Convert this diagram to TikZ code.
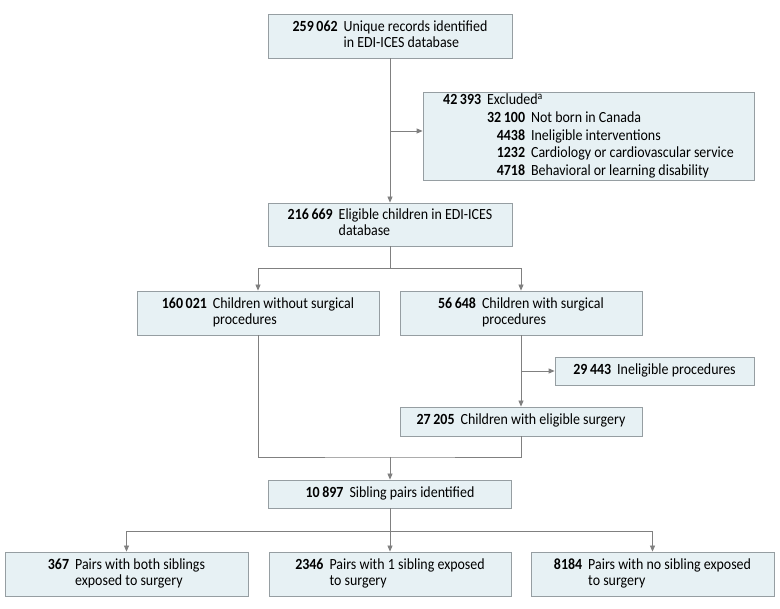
\documentclass[tikz,border=0pt]{standalone}
\usepackage{fontspec}
\setmainfont{Carlito}[FakeStretch=0.9]
\usetikzlibrary{arrows.meta}
\definecolor{boxfill}{RGB}{231,241,244}
\definecolor{boxline}{RGB}{150,158,162}
\definecolor{flowline}{RGB}{128,128,128}
\newcommand{\tally}[2]{\textbf{#1}\hspace{6pt}\begin{tabular}[t]{@{}l@{}}#2\end{tabular}}

\begin{document}
\begin{tikzpicture}[x=1pt,y=-1pt,
    stage/.style={draw=boxline, fill=boxfill, line width=0.8pt, inner sep=0pt,
      font=\fontsize{15.5}{16}\selectfont},
    flow/.style={draw=flowline, line width=0.8pt},
    arr/.style={flow, -{Triangle[length=6pt,width=5pt]}}]
  \path[use as bounding box, fill=white] (0,0) rectangle (780,609);

  % boxes
  \node[stage, minimum width=244, minimum height=44] (rec) at (390,36)
    {\tally{259\,062}{Unique records identified\\in EDI-ICES database}};
  \node[stage, minimum width=331, minimum height=87] (excl) at (588.5,136.5)
    {\renewcommand{\arraystretch}{1.1}%
     \begin{tabular}{@{}l@{\hspace{6pt}}r@{\hspace{6pt}}l@{}}
       \textbf{42\,393} & \multicolumn{2}{@{}l@{}}{Excluded\textsuperscript{a}}\\
       & \textbf{32\,100} & Not born in Canada\\
       & \textbf{4438} & Ineligible interventions\\
       & \textbf{1232} & Cardiology or cardiovascular service\\
       & \textbf{4718} & Behavioral or learning disability
     \end{tabular}};
  \node[stage, minimum width=244, minimum height=43] (elig) at (390,224.5)
    {\tally{216\,669}{Eligible children in EDI-ICES\\database}};
  \node[stage, minimum width=242, minimum height=44] (nosurg) at (258,313)
    {\tally{160\,021}{Children without surgical\\procedures}};
  \node[stage, minimum width=242, minimum height=44] (surg) at (521,313)
    {\tally{56\,648}{Children with surgical\\procedures}};
  \node[stage, minimum width=199, minimum height=28] (inelig) at (654.5,371)
    {\tally{29\,443}{Ineligible procedures}};
  \node[stage, minimum width=242, minimum height=29] (elsurg) at (521,421.5)
    {\tally{27\,205}{Children with eligible surgery}};
  \node[stage, minimum width=243, minimum height=28] (sib) at (390,494)
    {\tally{10\,897}{Sibling pairs identified}};
  \node[stage, minimum width=243, minimum height=44] (both) at (126.5,574)
    {\tally{367}{Pairs with both siblings\\exposed to surgery}};
  \node[stage, minimum width=242, minimum height=44] (one) at (390,574)
    {\tally{2346}{Pairs with 1 sibling exposed\\to surgery}};
  \node[stage, minimum width=243, minimum height=44] (none) at (652.5,574)
    {\tally{8184}{Pairs with no sibling exposed\\to surgery}};

  % connectors
  \draw[arr] (rec) -- (elig);
  \draw[arr] ([yshift=5.5pt]excl.west -| rec.south) -- ([yshift=5.5pt]excl.west);
  \draw[flow] (elig.south) -- ++(0,22) coordinate (fork);
  \draw[arr] (fork) -| (nosurg.north);
  \draw[arr] (fork) -| (surg.north);
  \draw[arr] (surg) -- (elsurg);
  \draw[arr] (surg.south |- inelig.west) -- (inelig.west);
  \coordinate (merge) at (390,457);
  \draw[flow] (nosurg.south) |- (merge) -| (elsurg.south);
  \draw[arr] (merge) -- (sib);
  \draw[flow] (sib.south) -- ++(0,23) coordinate (split);
  \draw[arr] (split) -| (both.north);
  \draw[arr] (split) -- (one);
  \draw[arr] (split) -| (none.north);
\end{tikzpicture}
\end{document}
